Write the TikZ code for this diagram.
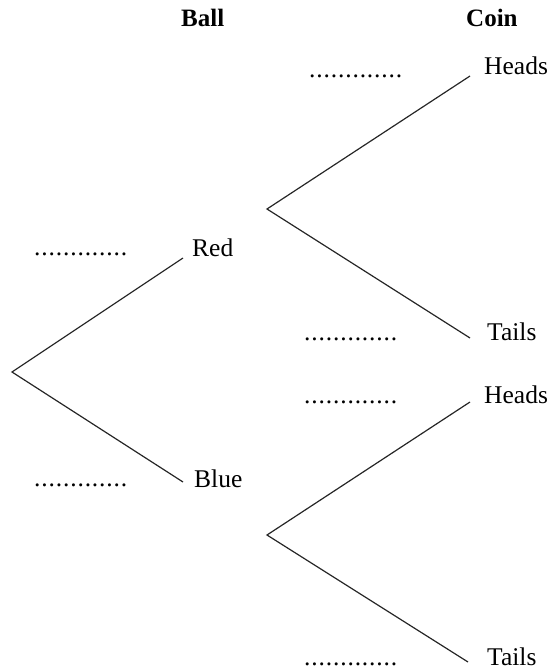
\documentclass[tikz,border=0pt]{standalone}
\usepackage{fontspec}
\setmainfont{Liberation Serif}
\newcommand{\dd}{.\kern0.85pt}
\newcommand{\dotrow}{\dd\dd\dd\dd\dd\dd\dd\dd\dd\dd\dd\dd.}
\begin{document}
\begin{tikzpicture}[x=1pt,y=-1pt,
  lbl/.style={anchor=base west,inner sep=0pt,font=\fontsize{25.5}{30}\selectfont},
  hdr/.style={lbl,font=\fontsize{25}{30}\selectfont\bfseries},
  blank/.style={lbl},
  branch/.style={line width=1.2pt,draw=black!85}]
\useasboundingbox (0,0) rectangle (555,671);
% headers
\node[hdr] (ball) at (181,27) {Ball};
\node[hdr] (coin) at (466,27) {Coin};
% junction points
\coordinate (root) at (12,372);
\coordinate (redend) at (183,258);
\coordinate (blueend) at (183,482);
\coordinate (rroot) at (267,209);
\coordinate (rh) at (470,76);
\coordinate (rt) at (470,338);
\coordinate (broot) at (267,535);
\coordinate (bh) at (470,402);
\coordinate (bt) at (468,662);
% branches
\draw[branch] (redend) -- (root) -- (blueend);
\draw[branch] (rh) -- (rroot) -- (rt);
\draw[branch] (bh) -- (broot) -- (bt);
% outcome labels
\node[lbl] (red) at (192,256) {Red};
\node[lbl] (blue) at (194,487) {Blue};
\node[lbl] (h1) at (484,75) {Heads};
\node[lbl] (t1) at (487,340) {Tails};
\node[lbl] (h2) at (484,403) {Heads};
\node[lbl] (t2) at (487,665.5) {Tails};
% blanks
\node[blank] (d1) at (34,255.5) {\dotrow};
\node[blank] (d2) at (34,486.5) {\dotrow};
\node[blank] (d3) at (309,77.5) {\dotrow};
\node[blank] (d4) at (304,340.5) {\dotrow};
\node[blank] (d5) at (304,403.5) {\dotrow};
\node[blank] (d6) at (304,665.5) {\dotrow};
\end{tikzpicture}
\end{document}
